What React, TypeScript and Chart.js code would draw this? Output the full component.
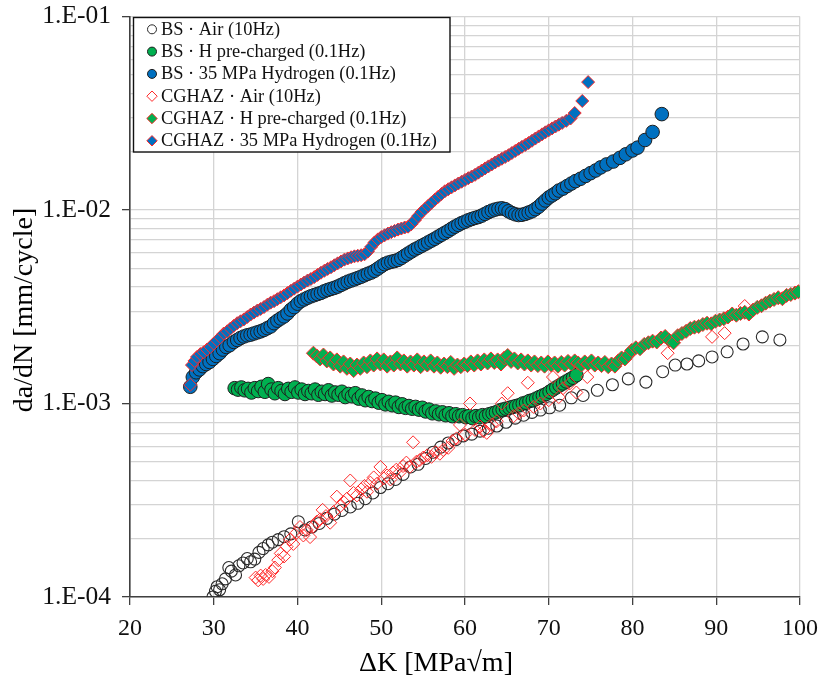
import React, { useEffect, useRef } from 'react';
import { Chart, registerables } from 'chart.js';

Chart.register(...registerables);

// ---------- DATA ----------
const seriesLabels = [
  'BS \u00b7 Air (10Hz)',
  'BS \u00b7 H pre-charged (0.1Hz)',
  'BS \u00b7 35 MPa Hydrogen (0.1Hz)',
  'CGHAZ \u00b7 Air (10Hz)',
  'CGHAZ \u00b7 H pre-charged (0.1Hz)',
  'CGHAZ \u00b7 35 MPa Hydrogen (0.1Hz)',
];

// BS - Air (10Hz)
const bsAirK = [29.9, 30.2, 30.4, 30.7, 31.0, 31.4, 31.8, 32.1, 32.6, 33.0, 33.5, 34.0, 34.4, 34.9, 35.4, 35.9, 36.5, 37.0, 37.7, 38.4, 39.2, 40.1, 40.9, 41.7, 42.6, 43.5, 44.4, 45.3, 46.3, 47.2, 48.1, 49.0, 49.9, 50.8, 51.7, 52.6, 53.5, 54.4, 55.3, 56.2, 57.1, 58.0, 58.9, 59.8, 60.8, 61.8, 62.8, 63.8, 64.9, 66.0, 67.0, 68.0, 69.0, 70.1, 71.3, 72.7, 74.1, 75.8, 77.6, 79.5, 81.6, 83.6, 85.1, 86.5, 87.9, 89.5, 91.3, 93.2, 95.5, 97.6];
const bsAirRate = [1.00e-4, 1.07e-4, 1.13e-4, 1.09e-4, 1.17e-4, 1.24e-4, 1.42e-4, 1.36e-4, 1.30e-4, 1.45e-4, 1.50e-4, 1.58e-4, 1.52e-4, 1.57e-4, 1.70e-4, 1.78e-4, 1.86e-4, 1.92e-4, 1.98e-4, 2.05e-4, 2.12e-4, 2.45e-4, 2.22e-4, 2.30e-4, 2.40e-4, 2.55e-4, 2.68e-4, 2.80e-4, 2.92e-4, 3.05e-4, 3.22e-4, 3.45e-4, 3.68e-4, 3.85e-4, 4.05e-4, 4.30e-4, 4.70e-4, 4.85e-4, 5.20e-4, 5.60e-4, 5.95e-4, 6.25e-4, 6.50e-4, 6.80e-4, 6.95e-4, 7.20e-4, 7.45e-4, 7.65e-4, 8.00e-4, 8.40e-4, 8.70e-4, 9.00e-4, 9.25e-4, 9.50e-4, 9.80e-4, 1.07e-3, 1.10e-3, 1.17e-3, 1.25e-3, 1.34e-3, 1.29e-3, 1.46e-3, 1.58e-3, 1.60e-3, 1.66e-3, 1.74e-3, 1.85e-3, 2.03e-3, 2.21e-3, 2.13e-3];

// BS - H pre-charged (0.1Hz)
const bsHK = [32.5, 32.9, 33.3, 33.7, 34.1, 34.5, 34.9, 35.3, 35.7, 36.1, 36.5, 36.9, 37.3, 37.7, 38.1, 38.5, 38.9, 39.3, 39.7, 40.1, 40.5, 40.9, 41.3, 41.7, 42.1, 42.5, 42.9, 43.3, 43.7, 44.1, 44.5, 44.9, 45.3, 45.7, 46.1, 46.5, 46.9, 47.3, 47.7, 48.1, 48.5, 48.9, 49.3, 49.7, 50.1, 50.5, 50.9, 51.3, 51.7, 52.1, 52.5, 52.9, 53.3, 53.7, 54.1, 54.5, 54.9, 55.3, 55.7, 56.1, 56.5, 56.9, 57.3, 57.7, 58.1, 58.5, 58.9, 59.3, 59.7, 60.1, 60.5, 60.9, 61.3, 61.7, 62.1, 62.5, 62.9, 63.3, 63.7, 64.1, 64.5, 64.9, 65.3, 65.7, 66.1, 66.5, 66.9, 67.3, 67.7, 68.1, 68.5, 68.9, 69.3, 69.7, 70.1, 70.5, 70.9, 71.3, 71.7, 72.1, 72.5, 72.9, 73.3];
const bsHRate = [1.20e-3, 1.18e-3, 1.21e-3, 1.17e-3, 1.19e-3, 1.14e-3, 1.20e-3, 1.16e-3, 1.22e-3, 1.15e-3, 1.26e-3, 1.18e-3, 1.13e-3, 1.20e-3, 1.16e-3, 1.12e-3, 1.19e-3, 1.15e-3, 1.21e-3, 1.14e-3, 1.18e-3, 1.12e-3, 1.16e-3, 1.13e-3, 1.18e-3, 1.11e-3, 1.15e-3, 1.12e-3, 1.17e-3, 1.10e-3, 1.14e-3, 1.11e-3, 1.15e-3, 1.08e-3, 1.12e-3, 1.09e-3, 1.13e-3, 1.06e-3, 1.10e-3, 1.04e-3, 1.08e-3, 1.03e-3, 1.06e-3, 1.01e-3, 1.04e-3, 0.99e-3, 1.02e-3, 0.98e-3, 1.01e-3, 0.96e-3, 0.99e-3, 0.95e-3, 0.97e-3, 0.94e-3, 0.96e-3, 0.93e-3, 0.95e-3, 0.91e-3, 0.93e-3, 0.89e-3, 0.91e-3, 0.88e-3, 0.90e-3, 0.87e-3, 0.89e-3, 0.86e-3, 0.88e-3, 0.86e-3, 0.87e-3, 0.85e-3, 0.86e-3, 0.84e-3, 0.86e-3, 0.85e-3, 0.87e-3, 0.86e-3, 0.88e-3, 0.89e-3, 0.90e-3, 0.92e-3, 0.93e-3, 0.94e-3, 0.95e-3, 0.96e-3, 0.97e-3, 0.98e-3, 1.00e-3, 1.01e-3, 1.03e-3, 1.04e-3, 1.06e-3, 1.08e-3, 1.10e-3, 1.12e-3, 1.15e-3, 1.18e-3, 1.21e-3, 1.24e-3, 1.27e-3, 1.30e-3, 1.33e-3, 1.36e-3, 1.40e-3];

// BS - 35 MPa Hydrogen (0.1Hz)
const bsH2K = [27.2, 27.5, 27.9, 28.3, 28.7, 29.1, 29.5, 29.9, 30.3, 30.7, 31.1, 31.5, 31.9, 32.4, 32.8, 33.2, 33.6, 34.0, 34.4, 34.8, 35.2, 35.6, 36.0, 36.4, 36.8, 37.2, 37.6, 38.0, 38.4, 38.8, 39.2, 39.6, 40.0, 40.4, 40.8, 41.2, 41.6, 42.0, 42.4, 42.8, 43.2, 43.6, 44.0, 44.4, 44.8, 45.2, 45.6, 46.0, 46.4, 46.8, 47.2, 47.6, 48.0, 48.4, 48.8, 49.2, 49.6, 50.0, 50.4, 50.8, 51.2, 51.6, 52.0, 52.4, 52.8, 53.2, 53.6, 54.0, 54.4, 54.8, 55.2, 55.6, 56.0, 56.4, 56.8, 57.2, 57.6, 58.0, 58.4, 58.8, 59.2, 59.6, 60.0, 60.4, 60.8, 61.2, 61.6, 62.0, 62.4, 62.8, 63.2, 63.6, 64.0, 64.4, 64.8, 65.2, 65.6, 66.0, 66.4, 66.8, 67.2, 67.6, 68.0, 68.4, 68.8, 69.2, 69.6, 70.0, 70.4, 70.8, 71.2, 71.7, 72.2, 72.7, 73.2, 73.8, 74.4, 75.0, 75.6, 76.2, 76.9, 77.7, 78.5, 79.2, 80.0, 80.6, 81.5, 82.4, 83.5];
const bsH2Rate = [1.22e-3, 1.37e-3, 1.45e-3, 1.50e-3, 1.56e-3, 1.60e-3, 1.64e-3, 1.70e-3, 1.76e-3, 1.82e-3, 1.90e-3, 1.96e-3, 2.00e-3, 2.08e-3, 2.13e-3, 2.18e-3, 2.22e-3, 2.25e-3, 2.27e-3, 2.30e-3, 2.33e-3, 2.36e-3, 2.40e-3, 2.45e-3, 2.50e-3, 2.60e-3, 2.68e-3, 2.75e-3, 2.82e-3, 2.92e-3, 3.05e-3, 3.15e-3, 3.28e-3, 3.38e-3, 3.45e-3, 3.52e-3, 3.58e-3, 3.63e-3, 3.68e-3, 3.73e-3, 3.80e-3, 3.86e-3, 3.91e-3, 3.96e-3, 4.02e-3, 4.10e-3, 4.18e-3, 4.26e-3, 4.32e-3, 4.38e-3, 4.45e-3, 4.52e-3, 4.60e-3, 4.68e-3, 4.75e-3, 4.85e-3, 4.98e-3, 5.12e-3, 5.25e-3, 5.34e-3, 5.40e-3, 5.45e-3, 5.52e-3, 5.65e-3, 5.80e-3, 5.95e-3, 6.10e-3, 6.25e-3, 6.38e-3, 6.52e-3, 6.65e-3, 6.80e-3, 6.95e-3, 7.10e-3, 7.28e-3, 7.45e-3, 7.62e-3, 7.80e-3, 8.00e-3, 8.20e-3, 8.38e-3, 8.55e-3, 8.70e-3, 8.85e-3, 8.98e-3, 9.10e-3, 9.20e-3, 9.35e-3, 9.55e-3, 9.75e-3, 9.92e-3, 1.005e-2, 1.015e-2, 1.02e-2, 1.01e-2, 9.85e-3, 9.65e-3, 9.50e-3, 9.42e-3, 9.45e-3, 9.55e-3, 9.70e-3, 9.85e-3, 1.01e-2, 1.04e-2, 1.08e-2, 1.12e-2, 1.16e-2, 1.19e-2, 1.22e-2, 1.26e-2, 1.29e-2, 1.33e-2, 1.37e-2, 1.41e-2, 1.45e-2, 1.50e-2, 1.55e-2, 1.60e-2, 1.66e-2, 1.72e-2, 1.78e-2, 1.86e-2, 1.94e-2, 2.03e-2, 2.10e-2, 2.30e-2, 2.53e-2, 3.13e-2];

// CGHAZ - Air (10Hz)
const cgAirK = [35.0, 35.3, 35.6, 35.9, 36.2, 36.6, 37.0, 37.3, 37.7, 38.0, 38.4, 38.7, 39.1, 39.5, 39.9, 40.3, 40.7, 41.1, 41.5, 41.9, 42.3, 42.7, 43.0, 43.4, 43.9, 44.3, 44.7, 45.1, 45.5, 45.9, 46.3, 46.7, 47.1, 47.6, 48.0, 48.3, 48.7, 49.1, 49.5, 49.9, 50.3, 50.7, 51.1, 51.4, 51.8, 52.2, 52.6, 53.0, 53.4, 53.8, 54.2, 54.6, 55.0, 55.5, 56.0, 56.5, 57.0, 57.4, 58.0, 58.5, 59.0, 59.4, 60.0, 60.6, 61.2, 61.8, 62.2, 62.6, 63.2, 63.8, 64.4, 65.1, 65.8, 66.4, 67.0, 67.5, 68.2, 69.0, 70.0, 70.5, 71.2, 71.7, 72.5, 73.3, 74.6, 84.2, 89.5, 91.0, 93.4];
const cgAirRate = [1.26e-4, 1.22e-4, 1.29e-4, 1.24e-4, 1.30e-4, 1.27e-4, 1.36e-4, 1.42e-4, 1.55e-4, 1.68e-4, 1.62e-4, 1.82e-4, 1.98e-4, 1.88e-4, 2.15e-4, 2.30e-4, 2.08e-4, 2.22e-4, 2.04e-4, 2.32e-4, 2.45e-4, 2.52e-4, 2.82e-4, 2.62e-4, 2.42e-4, 2.75e-4, 3.30e-4, 2.95e-4, 3.10e-4, 3.22e-4, 4.00e-4, 3.45e-4, 3.35e-4, 3.60e-4, 3.75e-4, 3.50e-4, 3.90e-4, 4.15e-4, 3.85e-4, 4.70e-4, 4.10e-4, 4.25e-4, 4.05e-4, 4.40e-4, 4.55e-4, 4.40e-4, 4.75e-4, 4.95e-4, 4.70e-4, 6.30e-4, 5.00e-4, 5.10e-4, 5.25e-4, 5.40e-4, 5.30e-4, 5.60e-4, 5.50e-4, 5.75e-4, 5.90e-4, 6.40e-4, 6.60e-4, 7.75e-4, 6.90e-4, 1.00e-3, 7.30e-4, 7.60e-4, 7.20e-4, 7.05e-4, 7.80e-4, 8.10e-4, 1.00e-3, 1.13e-3, 8.60e-4, 8.90e-4, 9.20e-4, 1.28e-3, 9.60e-4, 1.00e-3, 1.04e-3, 1.37e-3, 1.08e-3, 1.20e-3, 1.27e-3, 1.14e-3, 1.37e-3, 1.82e-3, 2.21e-3, 2.31e-3, 3.19e-3];

// CGHAZ - H pre-charged (0.1Hz)
const cgHK = [41.9, 42.3, 42.7, 43.1, 43.5, 43.9, 44.3, 44.7, 45.1, 45.5, 45.9, 46.3, 46.7, 47.1, 47.5, 47.9, 48.3, 48.7, 49.1, 49.5, 49.9, 50.3, 50.7, 51.1, 51.5, 51.9, 52.3, 52.7, 53.1, 53.5, 53.9, 54.3, 54.7, 55.1, 55.5, 55.9, 56.3, 56.7, 57.1, 57.5, 57.9, 58.3, 58.7, 59.1, 59.5, 59.9, 60.3, 60.7, 61.1, 61.5, 61.9, 62.3, 62.7, 63.1, 63.5, 63.9, 64.3, 64.7, 65.1, 65.5, 65.9, 66.3, 66.7, 67.1, 67.5, 67.9, 68.3, 68.7, 69.1, 69.5, 69.9, 70.3, 70.7, 71.1, 71.5, 71.9, 72.3, 72.7, 73.1, 73.5, 73.9, 74.3, 74.7, 75.1, 75.5, 75.9, 76.3, 76.7, 77.1, 77.5, 77.9, 78.3, 78.7, 79.1, 79.5, 79.9, 80.4, 80.9, 81.4, 81.9, 82.4, 82.9, 83.4, 83.9, 84.4, 84.9, 85.4, 85.9, 86.4, 86.9, 87.4, 87.9, 88.4, 88.9, 89.4, 89.9, 90.4, 90.9, 91.4, 91.9, 92.4, 92.9, 93.4, 93.9, 94.4, 94.9, 95.4, 95.9, 96.4, 96.9, 97.4, 97.9, 98.4, 98.9, 99.4, 99.8];
const cgHRate = [1.82e-3, 1.76e-3, 1.70e-3, 1.78e-3, 1.66e-3, 1.72e-3, 1.60e-3, 1.68e-3, 1.56e-3, 1.64e-3, 1.52e-3, 1.60e-3, 1.48e-3, 1.58e-3, 1.52e-3, 1.62e-3, 1.55e-3, 1.66e-3, 1.58e-3, 1.70e-3, 1.60e-3, 1.68e-3, 1.56e-3, 1.64e-3, 1.58e-3, 1.72e-3, 1.60e-3, 1.66e-3, 1.56e-3, 1.64e-3, 1.58e-3, 1.68e-3, 1.55e-3, 1.64e-3, 1.58e-3, 1.66e-3, 1.56e-3, 1.62e-3, 1.54e-3, 1.60e-3, 1.55e-3, 1.63e-3, 1.52e-3, 1.58e-3, 1.55e-3, 1.60e-3, 1.57e-3, 1.64e-3, 1.58e-3, 1.66e-3, 1.60e-3, 1.68e-3, 1.62e-3, 1.70e-3, 1.63e-3, 1.68e-3, 1.60e-3, 1.72e-3, 1.77e-3, 1.65e-3, 1.70e-3, 1.62e-3, 1.68e-3, 1.60e-3, 1.66e-3, 1.58e-3, 1.64e-3, 1.57e-3, 1.62e-3, 1.56e-3, 1.64e-3, 1.58e-3, 1.62e-3, 1.56e-3, 1.63e-3, 1.58e-3, 1.65e-3, 1.60e-3, 1.66e-3, 1.62e-3, 1.58e-3, 1.64e-3, 1.60e-3, 1.66e-3, 1.58e-3, 1.62e-3, 1.57e-3, 1.63e-3, 1.55e-3, 1.60e-3, 1.56e-3, 1.66e-3, 1.72e-3, 1.70e-3, 1.78e-3, 1.88e-3, 1.94e-3, 1.92e-3, 2.02e-3, 2.06e-3, 2.10e-3, 2.08e-3, 2.18e-3, 2.22e-3, 2.12e-3, 2.06e-3, 2.24e-3, 2.30e-3, 2.36e-3, 2.44e-3, 2.48e-3, 2.50e-3, 2.56e-3, 2.60e-3, 2.58e-3, 2.66e-3, 2.70e-3, 2.74e-3, 2.80e-3, 2.90e-3, 2.86e-3, 2.92e-3, 2.96e-3, 2.90e-3, 3.04e-3, 3.14e-3, 3.20e-3, 3.30e-3, 3.38e-3, 3.45e-3, 3.52e-3, 3.48e-3, 3.62e-3, 3.66e-3, 3.72e-3, 3.78e-3];

// CGHAZ - 35 MPa Hydrogen (0.1Hz)
const cgH2K = [27.2, 27.4, 27.7, 28.0, 28.4, 28.8, 29.2, 29.6, 30.0, 30.4, 30.8, 31.2, 31.6, 32.0, 32.4, 32.8, 33.2, 33.6, 34.0, 34.4, 34.8, 35.2, 35.6, 36.0, 36.4, 36.8, 37.2, 37.6, 38.0, 38.4, 38.8, 39.2, 39.6, 40.0, 40.4, 40.8, 41.2, 41.6, 42.0, 42.4, 42.8, 43.2, 43.6, 44.0, 44.4, 44.8, 45.2, 45.6, 46.0, 46.4, 46.8, 47.2, 47.6, 48.0, 48.4, 48.8, 49.2, 49.6, 50.0, 50.4, 50.8, 51.2, 51.6, 52.0, 52.4, 52.8, 53.2, 53.6, 54.0, 54.4, 54.8, 55.2, 55.6, 56.0, 56.4, 56.8, 57.2, 57.6, 58.0, 58.4, 58.8, 59.2, 59.6, 60.0, 60.4, 60.8, 61.2, 61.6, 62.0, 62.4, 62.8, 63.2, 63.6, 64.0, 64.4, 64.8, 65.2, 65.6, 66.0, 66.4, 66.8, 67.2, 67.6, 68.0, 68.4, 68.8, 69.2, 69.6, 70.0, 70.4, 70.8, 71.2, 71.6, 72.1, 72.6, 73.1, 74.0, 74.7];
const cgH2Rate = [1.25e-3, 1.58e-3, 1.66e-3, 1.74e-3, 1.80e-3, 1.84e-3, 1.90e-3, 1.96e-3, 2.04e-3, 2.12e-3, 2.20e-3, 2.30e-3, 2.36e-3, 2.44e-3, 2.52e-3, 2.60e-3, 2.66e-3, 2.72e-3, 2.80e-3, 2.88e-3, 2.95e-3, 3.02e-3, 3.08e-3, 3.15e-3, 3.24e-3, 3.32e-3, 3.38e-3, 3.46e-3, 3.54e-3, 3.62e-3, 3.72e-3, 3.82e-3, 3.92e-3, 4.02e-3, 4.12e-3, 4.22e-3, 4.32e-3, 4.40e-3, 4.50e-3, 4.62e-3, 4.74e-3, 4.85e-3, 4.96e-3, 5.06e-3, 5.18e-3, 5.30e-3, 5.42e-3, 5.54e-3, 5.62e-3, 5.70e-3, 5.76e-3, 5.80e-3, 5.84e-3, 5.90e-3, 6.10e-3, 6.45e-3, 6.80e-3, 7.05e-3, 7.25e-3, 7.40e-3, 7.55e-3, 7.68e-3, 7.80e-3, 7.92e-3, 8.02e-3, 8.12e-3, 8.20e-3, 8.45e-3, 8.85e-3, 9.30e-3, 9.75e-3, 1.01e-2, 1.05e-2, 1.09e-2, 1.13e-2, 1.17e-2, 1.21e-2, 1.25e-2, 1.28e-2, 1.31e-2, 1.34e-2, 1.37e-2, 1.40e-2, 1.43e-2, 1.46e-2, 1.49e-2, 1.52e-2, 1.56e-2, 1.60e-2, 1.64e-2, 1.68e-2, 1.72e-2, 1.76e-2, 1.80e-2, 1.84e-2, 1.88e-2, 1.92e-2, 1.97e-2, 2.02e-2, 2.07e-2, 2.12e-2, 2.17e-2, 2.22e-2, 2.28e-2, 2.34e-2, 2.40e-2, 2.46e-2, 2.52e-2, 2.58e-2, 2.64e-2, 2.70e-2, 2.76e-2, 2.82e-2, 2.89e-2, 2.97e-2, 3.17e-2, 3.66e-2, 4.58e-2];

// Axes
const xMin = 20;
const xMax = 100;
const xStep = 10;
const yMajorTicks = [1e-4, 1e-3, 1e-2, 1e-1];
const yMajorLabels = ['1.E-04', '1.E-03', '1.E-02', '1.E-01'];
const yMinorMultipliers = [2, 3, 4, 5, 6, 7, 8, 9];
const xTitle = '\u0394K [MPa\u221am]';
const yTitle = 'da/dN [mm/cycle]';

// ---------- STYLE ----------
const FONT = "'Liberation Serif', 'Times New Roman', serif";
const GREEN = '#00b050';
const BLUE = '#0070c0';
const RED = '#ff2a2a';
const DARK = '#1e1e1e';

const styles = [
  { shape: 'circle', fill: 'rgba(0,0,0,0)', stroke: '#2a2a2a', r: 6, lw: 1.1 },
  { shape: 'circle', fill: GREEN, stroke: DARK, r: 6.8, lw: 1 },
  { shape: 'circle', fill: BLUE, stroke: DARK, r: 6.8, lw: 1 },
  { shape: 'rectRot', fill: 'rgba(255,255,255,0)', stroke: RED, r: 6.5, lw: 1 },
  { shape: 'rectRot', fill: GREEN, stroke: RED, r: 7, lw: 1 },
  { shape: 'rectRot', fill: BLUE, stroke: RED, r: 6.5, lw: 1 },
];

const seriesK = [bsAirK, bsHK, bsH2K, cgAirK, cgHK, cgH2K];
const seriesRate = [bsAirRate, bsHRate, bsH2Rate, cgAirRate, cgHRate, cgH2Rate];

function isMajor(v: number) {
  return yMajorTicks.some((m) => Math.abs(m - v) / m < 1e-6);
}

function drawMarker(ctx: CanvasRenderingContext2D, shape: string, x: number, y: number, r: number, fill: string, stroke: string, lw: number) {
  ctx.beginPath();
  if (shape === 'circle') {
    ctx.arc(x, y, r, 0, Math.PI * 2);
  } else {
    ctx.moveTo(x - r, y);
    ctx.lineTo(x, y - r);
    ctx.lineTo(x + r, y);
    ctx.lineTo(x, y + r);
    ctx.closePath();
  }
  ctx.fillStyle = fill;
  ctx.fill();
  ctx.lineWidth = lw;
  ctx.strokeStyle = stroke;
  ctx.stroke();
}

const overlayPlugin = {
  id: 'overlay',
  afterDraw(chart: any) {
    const ctx: CanvasRenderingContext2D = chart.ctx;
    ctx.save();
    // Axis titles
    ctx.fillStyle = '#000';
    ctx.font = `28px ${FONT}`;
    ctx.textAlign = 'center';
    ctx.textBaseline = 'alphabetic';
    ctx.fillText(xTitle, 436, 671);
    ctx.save();
    ctx.translate(32, 310);
    ctx.rotate(-Math.PI / 2);
    ctx.fillText(yTitle, 0, 0);
    ctx.restore();

    // Legend
    const bx = 133.5, by = 17.5, bw = 316.5, bh = 134.5;
    ctx.fillStyle = '#fff';
    ctx.fillRect(bx, by, bw, bh);
    ctx.lineWidth = 1.4;
    ctx.strokeStyle = '#111';
    ctx.strokeRect(bx, by, bw, bh);
    ctx.font = `18.4px ${FONT}`;
    ctx.textAlign = 'left';
    ctx.textBaseline = 'alphabetic';
    seriesLabels.forEach((lab, i) => {
      const base = 34.8 + i * 22.3;
      const s = styles[i];
      const isAir = i === 0 || i === 3;
      drawMarker(ctx, s.shape, 152, base - 5.5, s.shape === 'circle' ? 4.5 : 5.2, isAir ? '#fff' : s.fill, s.stroke, 1);
      ctx.fillStyle = '#111';
      ctx.fillText(lab, 161, base);
    });
    ctx.restore();
  },
};

export default function App() {
  const canvasRef = useRef<HTMLCanvasElement | null>(null);

  useEffect(() => {
    const canvas = canvasRef.current;
    if (!canvas) return;

    const yTickValues: number[] = [];
    for (let d = 0; d < yMajorTicks.length; d++) {
      yTickValues.push(yMajorTicks[d]);
      if (d < yMajorTicks.length - 1) {
        yMinorMultipliers.forEach((m) => yTickValues.push(m * yMajorTicks[d]));
      }
    }

    const datasets = seriesLabels.map((label, i) => ({
      label,
      data: seriesK[i].map((k, j) => ({ x: k, y: seriesRate[i][j] })),
      showLine: false,
      pointStyle: styles[i].shape,
      pointRadius: styles[i].r,
      pointHoverRadius: styles[i].r,
      pointBackgroundColor: styles[i].fill,
      pointBorderColor: styles[i].stroke,
      pointBorderWidth: styles[i].lw,
      order: seriesLabels.length - i,
    }));

    const chart = new Chart(canvas, {
      type: 'scatter',
      data: { datasets },
      plugins: [overlayPlugin],
      options: {
        animation: false,
        responsive: true,
        maintainAspectRatio: false,
        layout: { padding: { top: 16.5, right: 22, left: 0, bottom: 0 } },
        plugins: {
          legend: { display: false },
          tooltip: { enabled: false },
        },
        scales: {
          x: {
            type: 'linear',
            min: xMin,
            max: xMax,
            afterFit: (scale: any) => {
              scale.height = 80;
              scale.paddingLeft = 0;
              scale.paddingRight = 0;
            },
            ticks: {
              stepSize: xStep,
              font: { family: FONT, size: 24 },
              color: '#111',
              padding: 9,
              maxRotation: 0,
            },
            grid: {
              color: '#d4d4d4',
              lineWidth: 1.3,
              tickLength: 8,
              tickColor: '#404040',
              tickWidth: 1.3,
            },
            border: { color: '#404040', width: 1.6 },
          },
          y: {
            type: 'logarithmic',
            min: yMajorTicks[0],
            max: yMajorTicks[yMajorTicks.length - 1],
            afterFit: (scale: any) => {
              scale.width = 130;
              scale.paddingTop = 0;
              scale.paddingBottom = 0;
            },
            afterBuildTicks: (scale: any) => {
              scale.ticks = yTickValues.map((v) => ({ value: v, major: isMajor(v) }));
            },
            ticks: {
              autoSkip: false,
              font: { family: FONT, size: 25.5 },
              color: '#111',
              padding: 11,
              callback: (value: any) => {
                const v = Number(value);
                const idx = yMajorTicks.findIndex((m) => Math.abs(m - v) / m < 1e-6);
                return idx >= 0 ? yMajorLabels[idx] : '';
              },
            },
            grid: {
              color: '#d4d4d4',
              lineWidth: 1.3,
              tickLength: 8,
              tickWidth: 1.3,
              tickColor: (ctx: any) => (ctx.tick && isMajor(ctx.tick.value) ? '#404040' : 'rgba(0,0,0,0)'),
            },
            border: { color: '#404040', width: 1.6 },
          },
        },
      } as any,
    });

    return () => {
      chart.destroy();
    };
  }, []);

  return (
    <div style={{ position: 'fixed', left: 0, top: 0, width: 822, height: 677, background: '#fff' }}>
      <canvas ref={canvasRef} />
    </div>
  );
}
